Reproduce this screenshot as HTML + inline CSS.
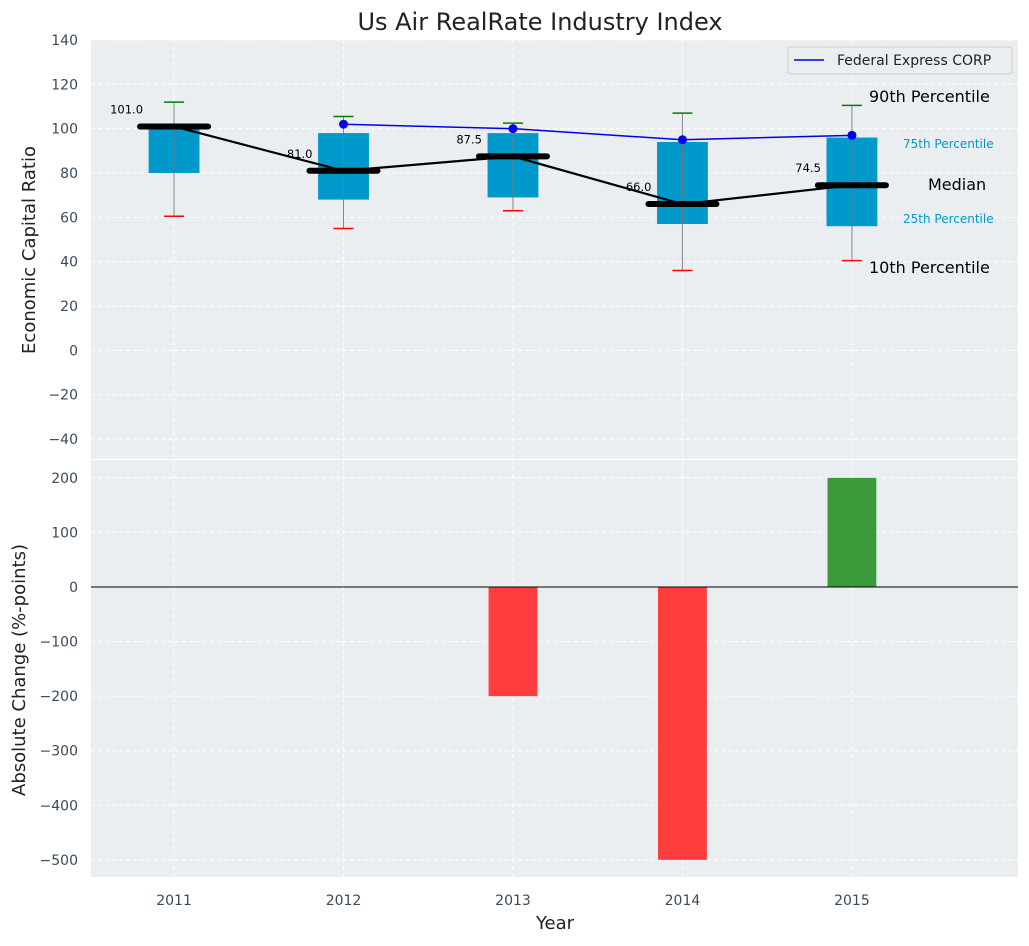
<!DOCTYPE html>
<html><head><meta charset="utf-8"><style>
body{margin:0;background:#fff;font-family:"DejaVu Sans","Liberation Sans",sans-serif;}
</style></head><body>
<svg id="c" width="1029" height="942" xmlns="http://www.w3.org/2000/svg"></svg>
<script>
const years=[2011,2012,2013,2014,2015];
const p10=[60.5,55,63,36,40.5];
const q1=[80,68,69,57,56];
const med=[101,81,87.5,66,74.5];
const q3=[101,98,98,94,96];
const p90=[112,105.5,102.5,107,110.5];
const fedYears=[2012,2013,2014,2015];
const fedVals=[102,100,95,97];
const chg=[0,0,-200,-500,200];
const topTicks=[140,120,100,80,60,40,20,0,-20,-40];
const botTicks=[200,100,0,-100,-200,-300,-400,-500];
const svg=document.getElementById('c');
const NS='http://www.w3.org/2000/svg';
function el(t,a,p){const e=document.createElementNS(NS,t);for(const k in a)e.setAttribute(k,a[k]);(p||svg).appendChild(e);return e;}
const X0=91,X1=1018;
const xs=y=>X0+(y-2010.51)/(5.47)*(X1-X0);
const T0=40,T1=459;const ty=v=>T0+(140-v)/(140+49)*(T1-T0);
const B0=460,B1=877;const by=v=>587-v*0.5457;
let e;
e=el('rect',{x:X0,y:T0,width:X1-X0,height:T1-T0,fill:'#eaeef0'});
e=el('rect',{x:X0,y:B0,width:X1-X0,height:B1-B0,fill:'#eaeef0'});
const g='stroke:#fff;stroke-dasharray:4,3;stroke-width:1';
topTicks.forEach(v=>{el('line',{x1:X0,x2:X1,y1:ty(v),y2:ty(v),style:g});
 e=el('text',{x:X0-13,y:ty(v)+5,'text-anchor':'end','font-size':14,fill:'#3a4a5a'});e.textContent=String(v).replace('-','−');});
botTicks.forEach(v=>{el('line',{x1:X0,x2:X1,y1:by(v),y2:by(v),style:g});
 e=el('text',{x:X0-13,y:by(v)+5,'text-anchor':'end','font-size':14,fill:'#3a4a5a'});e.textContent=String(v).replace('-','−');});
years.forEach(y=>{el('line',{x1:xs(y),x2:xs(y),y1:T0,y2:T1,style:g});el('line',{x1:xs(y),x2:xs(y),y1:B0,y2:B1,style:g});
 e=el('text',{x:xs(y),y:905,'text-anchor':'middle','font-size':14,fill:'#3a4a5a'});e.textContent=y;});
const bw=0.3*(X1-X0)/5.47;
years.forEach((y,i)=>{const x=xs(y);
 el('line',{x1:x,x2:x,y1:ty(p90[i]),y2:ty(p10[i]),stroke:'#888','stroke-width':1});
 e=el('rect',{x:x-bw/2,y:ty(q3[i]),width:bw,height:ty(q1[i])-ty(q3[i]),fill:'#0099cc'});
 el('line',{x1:x,x2:x,y1:ty(q3[i]),y2:ty(q1[i]),stroke:'#777','stroke-width':1});
 el('line',{x1:x-10,x2:x+10,y1:ty(p90[i]),y2:ty(p90[i]),stroke:'green','stroke-width':1.5});
 el('line',{x1:x-10,x2:x+10,y1:ty(p10[i]),y2:ty(p10[i]),stroke:'red','stroke-width':1.5});
 e=el('line',{x1:x-34,x2:x+34,y1:ty(med[i]),y2:ty(med[i]),stroke:'#000','stroke-width':6,'stroke-linecap':'round'});
 e=el('text',{x:x-31,y:ty(med[i])-13,'text-anchor':'end','font-size':11.5,fill:'#000'});e.textContent=med[i].toFixed(1);
});
e=el('polyline',{points:years.map((y,i)=>xs(y)+','+ty(med[i])).join(' '),fill:'none',stroke:'#000','stroke-width':2.2});
e=el('polyline',{points:fedYears.map((y,i)=>xs(y)+','+ty(fedVals[i])).join(' '),fill:'none',stroke:'#0000ee','stroke-width':1.5});
fedYears.forEach((y,i)=>{el('circle',{cx:xs(y),cy:ty(fedVals[i]),r:4.5,fill:'#0000ee'});});
const ann=[['90th Percentile',869,102,16,'#000'],['75th Percentile',903,148,12,'#0099cc'],['Median',928,190,16,'#000'],['25th Percentile',903,223,12,'#0099cc'],['10th Percentile',869,273,16,'#000']];
ann.forEach(a=>{e=el('text',{x:a[1],y:a[2],'font-size':a[3],fill:a[4]});e.textContent=a[0];});
e=el('rect',{x:788,y:47,width:224,height:27,rx:3,fill:'#eaeef0',stroke:'#ccc'});
el('line',{x1:794,x2:824,y1:60,y2:60,stroke:'#0000ee','stroke-width':1.5});
e=el('text',{x:837,y:65,'font-size':14,fill:'#222'});e.textContent='Federal Express CORP';
years.forEach((y,i)=>{if(!chg[i])return;const v=chg[i];
 e=el('rect',{x:xs(y)-bw/2+1,y:Math.min(by(0),by(v)),width:bw-2,height:Math.abs(by(v)-by(0)),fill:v<0?'#ff3d3d':'#3a9a3a'});});
el('line',{x1:X0,x2:X1,y1:by(0),y2:by(0),stroke:'#000','stroke-width':1});
e=el('text',{x:540,y:30,'text-anchor':'middle','font-size':24,fill:'#222'});e.textContent='Us Air RealRate Industry Index';
e=el('text',{x:555,y:929,'text-anchor':'middle','font-size':18,fill:'#222'});e.textContent='Year';
e=el('text',{x:0,y:0,'text-anchor':'middle','font-size':18,fill:'#222',transform:'translate(35,250) rotate(-90)'});e.textContent='Economic Capital Ratio';
e=el('text',{x:0,y:0,'text-anchor':'middle','font-size':18,fill:'#222',transform:'translate(25,670) rotate(-90)'});e.textContent='Absolute Change (%-points)';
</script>
</body></html>
